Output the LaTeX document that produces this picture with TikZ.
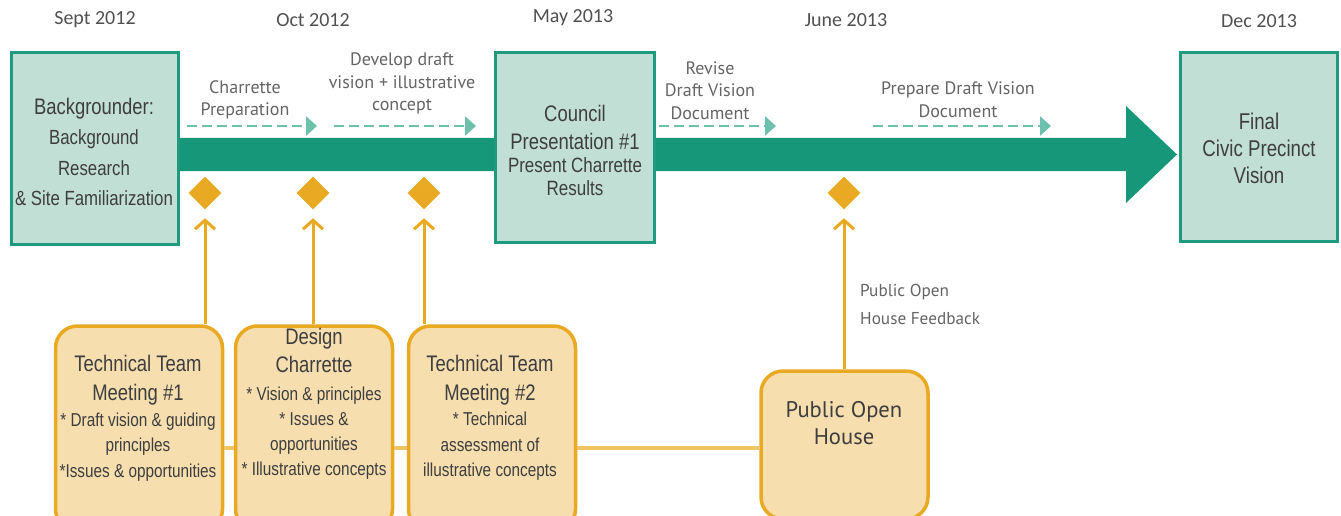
\documentclass[tikz,border=0pt]{standalone}
\usepackage{fontspec}
\setmainfont{Liberation Sans}
\newfontfamily\narrowfont{Liberation Sans}[FakeStretch=0.82]
\newfontfamily\labelfont{PT Sans}
\newfontfamily\datefont{Carlito}
\usetikzlibrary{arrows.meta,shapes.geometric,calc}

\definecolor{barteal}{RGB}{22,151,121}
\definecolor{boxteal}{RGB}{30,155,125}
\definecolor{boxfill}{RGB}{194,223,214}
\definecolor{dashteal}{RGB}{108,192,172}
\definecolor{meetorange}{RGB}{234,169,34}
\definecolor{meetfill}{RGB}{246,222,175}
\definecolor{linkorange}{RGB}{240,196,100}
\definecolor{textgray}{RGB}{62,62,62}
\definecolor{labelgray}{RGB}{100,100,100}
\definecolor{dategray}{RGB}{80,80,80}

\begin{document}
\begin{tikzpicture}[x=1pt,y=-1pt,
  phase/.style={draw=boxteal, line width=3pt, fill=boxfill, inner sep=0pt},
  meetbox/.style={draw=meetorange, line width=3.5pt, fill=meetfill, rounded corners=22pt, inner sep=0pt},
  boxtext/.style={align=center, text=textgray, inner sep=0pt},
  steplabel/.style={align=center, text=labelgray, inner sep=0pt,
    font=\labelfont\fontsize{18}{22.5}\selectfont},
  datelabel/.style={text=dategray, inner sep=0pt, font=\datefont\fontsize{20}{24}\selectfont},
  milestone/.style={diamond, fill=meetorange, minimum width=33pt, minimum height=33pt, inner sep=0pt},
  taskarrow/.style={draw=dashteal, line width=2.7pt, dash pattern=on 10pt off 5pt,
    -{Triangle[length=11pt,width=19pt]}},
  feedarrow/.style={draw=meetorange, line width=3pt, -{Straight Barb[length=9pt,width=20pt]}},
  linkline/.style={draw=linkorange, line width=4pt}]

\useasboundingbox (0,0) rectangle (1341,516);
\clip (0,0) rectangle (1341,516);

% dates along the top
\node[datelabel] (dsep) at (95,20) {Sept 2012};
\node[datelabel] (doct) at (313,20) {Oct 2012};
\node[datelabel] (dmay) at (573,18) {May 2013};
\node[datelabel] (djun) at (846,20) {June 2013};
\node[datelabel] (ddec) at (1259,21) {Dec 2013};

% end phase boxes
\node[phase, minimum width=167pt, minimum height=192pt] (bg) at (94.5,148.5) {};
\node[phase, minimum width=157pt, minimum height=189pt] (final) at (1259,147) {};

% main timeline arrow
\coordinate (bartop) at (0,138);
\coordinate (barbot) at (0,171);
\coordinate (tip) at (1177,154.5);
\fill[barteal] (bg.east |- bartop) -- (1126,138) -- (1126,106) -- (tip)
  -- (1126,203) -- (1126,171) -- (bg.east |- barbot) -- cycle;

% council box sits on top of the bar
\node[phase, minimum width=159pt, minimum height=190pt] (council) at (575,147.5) {};

% box texts
\node[boxtext, font=\narrowfont\fontsize{20.5}{30.5}\selectfont] (bgtext) at (94,152)
  {{\fontsize{22.5}{30.5}\selectfont Backgrounder:}\\Background\\Research\\\& Site Familiarization};
\node[boxtext, font=\narrowfont\fontsize{20.7}{23}\selectfont] (counciltext) at (575,150)
  {{\fontsize{22.5}{23}\selectfont Council}\\[5pt]{\fontsize{22.5}{23}\selectfont Presentation \#1}\\Present Charrette\\Results};
\node[boxtext, font=\narrowfont\fontsize{22.8}{27}\selectfont] (finaltext) at (1259,148)
  {Final\\Civic Precinct\\Vision};

% task arrows
\coordinate (a1s) at (187,126); \coordinate (a1e) at (317,126);
\coordinate (a2s) at (334,126); \coordinate (a2e) at (476,126);
\coordinate (a3s) at (659,126); \coordinate (a3e) at (776,126);
\coordinate (a4s) at (873,126); \coordinate (a4e) at (1051,126);
\draw[taskarrow] (a1s) -- (a1e);
\draw[taskarrow] (a2s) -- (a2e);
\draw[taskarrow] (a3s) -- (a3e);
\draw[taskarrow] (a4s) -- (a4e);

\node[steplabel] (l1) at (245,100) {Charrette\\Preparation};
\node[steplabel] (l2) at (402,83.5) {Develop draft\\vision + illustrative\\concept};
\node[steplabel] (l3) at (710,90.5) {Revise\\Draft Vision\\Document};
\node[steplabel] (l4) at (958,99.5) {Prepare Draft Vision\\Document};

% milestones
\node[milestone] (m1) at (205,193) {};
\node[milestone] (m2) at (313,193) {};
\node[milestone] (m3) at (424,193) {};
\node[milestone] (m4) at (844,193) {};

% meeting boxes
\node[meetbox, minimum width=167pt, minimum height=205pt] (b1) at (139,428.5) {};
\node[meetbox, minimum width=157pt, minimum height=205pt] (b2) at (314,428.5) {};
\node[meetbox, minimum width=167pt, minimum height=205pt] (b3) at (492,428.5) {};
\node[meetbox, minimum width=167pt, minimum height=148pt] (b4) at (844.5,445) {};

% links between the meetings
\coordinate (hl) at (0,448);
\draw[linkline] (b1.east |- hl) -- (b2.west |- hl);
\draw[linkline] (b2.east |- hl) -- (b3.west |- hl);
\draw[linkline] (b3.east |- hl) -- (b4.west |- hl);

% feedback into the milestones
\draw[feedarrow] (b1.north -| m1) -- ([yshift=-8.5pt]m1.south);
\draw[feedarrow] (b2.north -| m2) -- ([yshift=-8.5pt]m2.south);
\draw[feedarrow] (b3.north -| m3) -- ([yshift=-8.5pt]m3.south);
\draw[feedarrow] (b4.north -| m4) -- ([yshift=-8.5pt]m4.south);

\node[steplabel, align=left, anchor=west, font=\labelfont\fontsize{17.2}{28}\selectfont] (fb) at (860,304)
  {Public Open\\House Feedback};

% meeting texts
\node[boxtext, font=\narrowfont\fontsize{18.7}{25.7}\selectfont] (b1text) at (138,418.5)
  {{\fontsize{22.5}{25.7}\selectfont Technical Team}\\[3pt]{\fontsize{22.5}{25.7}\selectfont Meeting \#1}\\* Draft vision \& guiding\\principles\\*Issues \& opportunities};
\node[boxtext, font=\narrowfont\fontsize{18.7}{25}\selectfont] (b2text) at (314,403.5)
  {{\fontsize{22.5}{25}\selectfont Design}\\[3pt]{\fontsize{22.5}{25}\selectfont Charrette}\\[3pt]* Vision \& principles\\* Issues \&\\opportunities\\* Illustrative concepts};
\node[boxtext, font=\narrowfont\fontsize{18.7}{25.5}\selectfont] (b3text) at (490,418)
  {{\fontsize{22.5}{25.5}\selectfont Technical Team}\\[3pt]{\fontsize{22.5}{25.5}\selectfont Meeting \#2}\\* Technical\\assessment of\\illustrative concepts};
\node[boxtext, font=\labelfont\fontsize{22.6}{27}\selectfont] (b4text) at (844,423.5)
  {Public Open\\House};
\end{tikzpicture}
\end{document}
